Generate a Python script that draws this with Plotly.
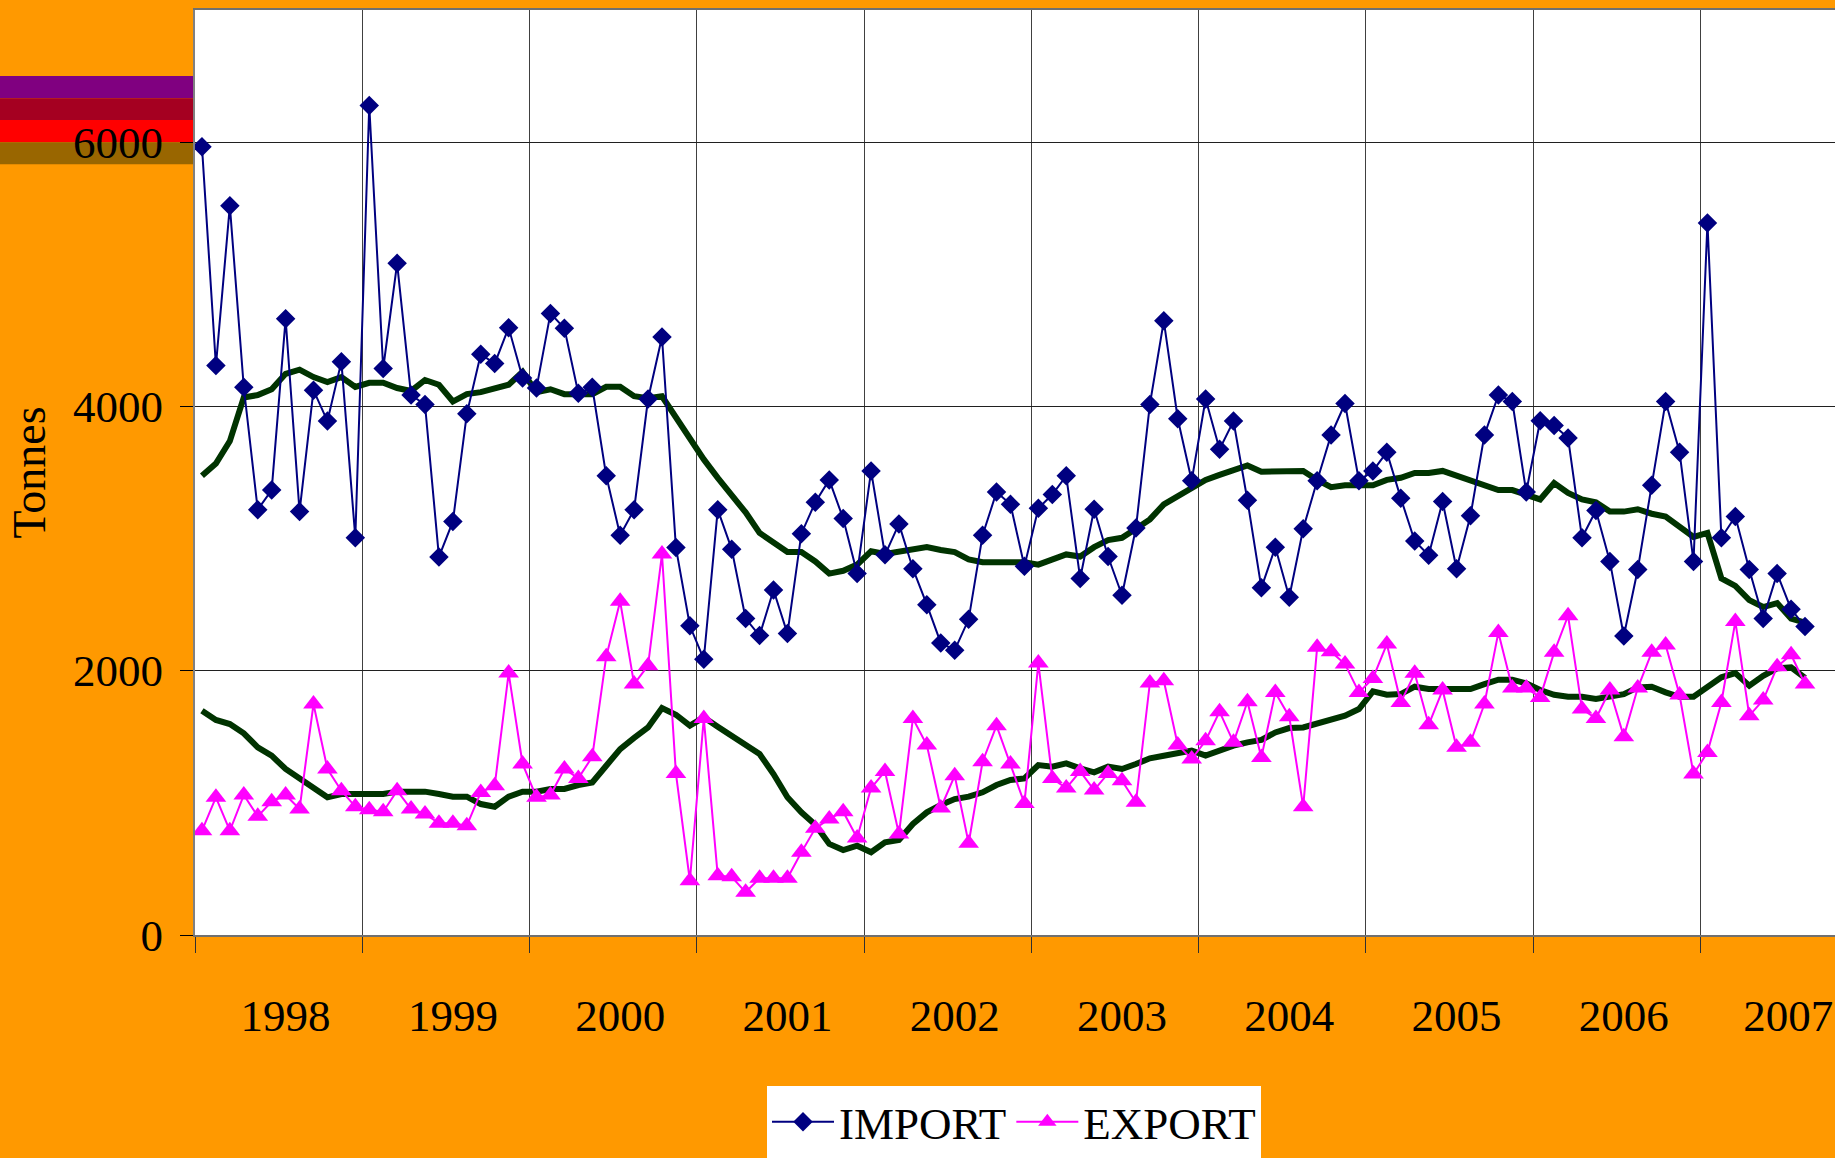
import plotly.graph_objects as go

# ---------------- data (monthly, Jan 1998 .. Aug 2007) ----------------
years = ["1998", "1999", "2000", "2001", "2002", "2003", "2004", "2005", "2006", "2007"]

import_t = [
    5966, 4309, 5518, 4145, 3219, 3367, 4663, 3204, 4123, 3889, 4339, 3006,
    6277, 4287, 5083, 4086, 4015, 2861, 3130, 3944, 4395, 4324, 4596, 4216,
    4139, 4704, 4592, 4099, 4145, 3475, 3025, 3219, 4056, 4525, 2932, 2340,
    2087, 3219, 2920, 2395, 2266, 2611, 2281, 3037, 3275, 3444, 3151, 2735,
    3512, 2877, 3111, 2772, 2500, 2210, 2155, 2389, 3025, 3352, 3259, 2790,
    3229, 3333, 3475, 2698, 3222, 2864, 2571, 3080, 4015, 4648, 3907, 3438,
    4056, 3676, 3889, 3290, 2627, 2935, 2556, 3074, 3438, 3784, 4022, 3438,
    3512, 3654, 3306, 2982, 2874, 3281, 2772, 3173, 3784, 4086, 4037, 3352,
    3892, 3855, 3762, 3006, 3213, 2827, 2263, 2766, 3404, 4037, 3654, 2827,
    5389, 3006, 3167, 2766, 2395, 2735, 2466, 2334,
]

export_t = [
    789, 1042, 789, 1059, 898, 1009, 1059, 953, 1748, 1256, 1092, 971,
    948, 933, 1092, 953, 916, 845, 845, 827, 1079, 1130, 1982, 1294,
    1042, 1059, 1256, 1185, 1349, 2106, 2525, 1899, 2038, 2883, 1223, 411,
    1639, 449, 441, 323, 429, 429, 429, 626, 807, 878, 933, 734,
    1112, 1238, 764, 1639, 1438, 961, 1206, 694, 1311, 1584, 1294, 996,
    2058, 1185, 1112, 1238, 1097, 1223, 1168, 1004, 1907, 1924, 1438, 1332,
    1470, 1690, 1458, 1765, 1344, 1836, 1652, 971, 2177, 2144, 2050, 1836,
    1942, 2202, 1760, 1980, 1591, 1854, 1420, 1458, 1748, 2290, 1869, 1869,
    1798, 2139, 2416, 1710, 1639, 1854, 1501, 1869, 2139, 2194, 1816, 1218,
    1382, 1760, 2373, 1660, 1778, 2030, 2121, 1899,
]

import_ma = [
    3475, 3568, 3738, 4068, 4086, 4130, 4247, 4278, 4222, 4185, 4222, 4148,
    4179, 4179, 4139, 4117, 4200, 4164, 4037, 4093, 4108, 4139, 4164, 4262,
    4108, 4130, 4093, 4093, 4093, 4148, 4148, 4077, 4062, 4077, 3914, 3753,
    3599, 3460, 3330, 3198, 3043, 2966, 2898, 2898, 2827, 2735, 2756, 2803,
    2904, 2883, 2904, 2920, 2935, 2914, 2898, 2843, 2821, 2821, 2821, 2821,
    2803, 2843, 2880, 2864, 2935, 2988, 3006, 3074, 3145, 3259, 3321, 3383,
    3444, 3482, 3512, 3553, 3506, 3506, 3512, 3512, 3444, 3389, 3404, 3404,
    3404, 3444, 3460, 3497, 3497, 3512, 3475, 3429, 3398, 3367, 3367, 3327,
    3296, 3420, 3346, 3296, 3275, 3204, 3204, 3222, 3188, 3167, 3083, 3012,
    3043, 2698, 2642, 2534, 2482, 2512, 2395, 2364,
]

export_ma = [
    1697, 1627, 1596, 1526, 1420, 1357, 1256, 1180, 1110, 1042, 1067, 1067,
    1067, 1067, 1085, 1085, 1085, 1067, 1047, 1047, 991, 971, 1047, 1085,
    1085, 1105, 1105, 1135, 1155, 1281, 1407, 1491, 1571, 1718, 1667, 1584,
    1647, 1576, 1510, 1433, 1370, 1218, 1042, 928, 835, 689, 643, 676,
    626, 701, 719, 840, 928, 984, 1029, 1047, 1080, 1135, 1173, 1185,
    1286, 1274, 1299, 1261, 1231, 1274, 1256, 1294, 1337, 1357, 1375, 1395,
    1357, 1395, 1433, 1458, 1476, 1533, 1566, 1571, 1602, 1622, 1660, 1710,
    1844, 1818, 1823, 1879, 1861, 1861, 1861, 1861, 1899, 1932, 1932, 1904,
    1854, 1818, 1803, 1803, 1786, 1803, 1823, 1874, 1879, 1836, 1803, 1803,
    1874, 1950, 1982, 1887, 1962, 2018, 2025, 1945,
]

months = list(range(len(import_t)))
# label positions (month index); the last label is nudged in so it fits the frame
year_label_pos = [6, 18, 30, 42, 54, 66, 78, 90, 102, 113.8]

FONT = "Liberation Serif"
ORANGE = "#FF9900"

fig = go.Figure()

fig.add_trace(go.Scatter(x=months, y=import_ma, mode="lines", showlegend=False,
                         line=dict(color="#003300", width=6), hoverinfo="skip"))
fig.add_trace(go.Scatter(x=months, y=export_ma, mode="lines", showlegend=False,
                         line=dict(color="#003300", width=6), hoverinfo="skip"))
fig.add_trace(go.Scatter(x=months, y=import_t, mode="lines+markers", name="IMPORT",
                         line=dict(color="#000080", width=2),
                         marker=dict(symbol="diamond", size=15, color="#000080")))
fig.add_trace(go.Scatter(x=months, y=export_t, mode="lines+markers", name="EXPORT",
                         line=dict(color="#FF00FF", width=2),
                         marker=dict(symbol="triangle-up", size=18, color="#FF00FF")))

# decorative colour stripes at the top-left of the chart
stripes = [("#800080", 6333, 6500), ("#A50021", 6167, 6333),
           ("#FF0000", 6000, 6167), ("#996600", 5833, 6000)]
shapes = []
for col, y0, y1 in stripes:
    shapes.append(dict(type="rect", xref="paper", yref="paper",
                       x0=-195 / 1640, x1=0, y0=y0 / 7000, y1=y1 / 7000,
                       fillcolor=col, line=dict(width=0), layer="below"))

fig.update_layout(
    width=1835, height=1158,
    margin=dict(l=195, r=0, t=10, b=223),
    paper_bgcolor=ORANGE, plot_bgcolor="white",
    font=dict(family=FONT, size=44, color="black"),
    shapes=shapes,
    showlegend=True,
    legend=dict(orientation="h", x=(767 - 195) / 1640, xanchor="left",
                y=(935 - 1086) / 925, yanchor="top",
                bgcolor="white", borderwidth=0,
                font=dict(family=FONT, size=45, color="black"),
                itemwidth=62, tracegroupgap=0),
    xaxis=dict(range=[-0.5, 117.15], tickmode="array", tickvals=year_label_pos,
               ticktext=years, ticks="", showgrid=False, zeroline=False,
               showline=True, linecolor="#707070", linewidth=2, mirror=True,
               ticklabelstandoff=40, ticklabeloverflow="allow",
               tickfont=dict(family=FONT, size=45, color="black"),
               minor=dict(tick0=-0.5, dtick=12, ticks="outside", ticklen=16,
                          tickcolor="#303030", tickwidth=1,
                          showgrid=True, gridcolor="#404040", gridwidth=1)),
    yaxis=dict(range=[0, 7000], tickmode="array", tickvals=[0, 2000, 4000, 6000],
               ticks="outside", ticklen=13, tickcolor="black", tickwidth=1,
               showgrid=True, gridcolor="#202020", gridwidth=1, zeroline=False,
               showline=True, linecolor="#808080", linewidth=2,
               tickfont=dict(family=FONT, size=45, color="black"),
               ticklabelstandoff=8,
               title=dict(text="Tonnes", font=dict(family=FONT, size=46, color="black"),
                          standoff=13)),
)

fig.write_html(
    "out.html",
    config={"displayModeBar": False},
    post_script="document.body.style.margin='0';document.body.style.background='#FF9900';"
                "document.body.style.overflow='hidden';",
)
